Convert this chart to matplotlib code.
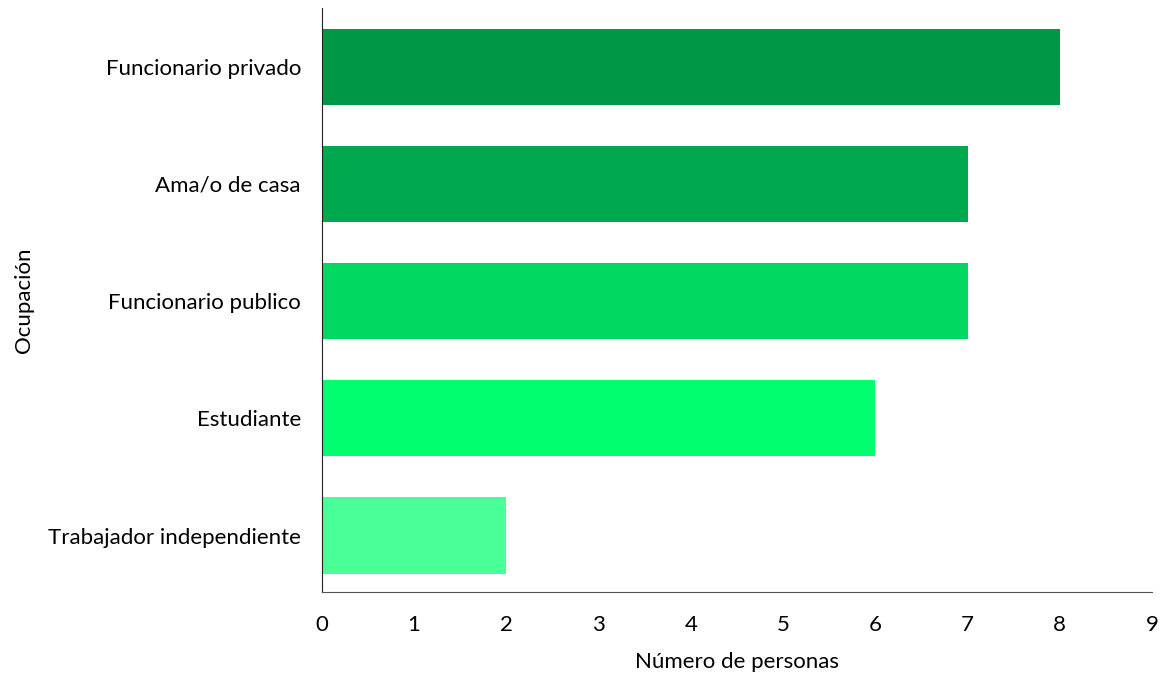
import matplotlib.pyplot as plt

ocupaciones = ["Trabajador independiente", "Estudiante", "Funcionario publico",
               "Ama/o de casa", "Funcionario privado"]
personas = [2, 6, 7, 7, 8]
colores = ["#48FF98", "#00FF6E", "#00D862", "#00A84E", "#009846"]
ticks_x = [0, 1, 2, 3, 4, 5, 6, 7, 8, 9]

plt.rcParams['font.family'] = ['Lato', 'DejaVu Sans']

fig = plt.figure(figsize=(11.66, 6.81), dpi=100)
ax = fig.add_axes([0.276, 0.131, 0.712, 0.857])
ax.barh(ocupaciones, personas, height=0.65, color=colores)

ax.set_xlim(0, 9)
ax.set_ylim(-0.48, 4.5)
ax.set_xticks(ticks_x)
ax.tick_params(axis='both', length=0, labelsize=16)
ax.tick_params(axis='x', pad=17)
ax.tick_params(axis='y', pad=15)
ax.spines['top'].set_visible(False)
ax.spines['right'].set_visible(False)
ax.spines['left'].set_color('#222222')
ax.spines['bottom'].set_color('#555555')
ax.set_xlabel("Número de personas", fontsize=16, labelpad=12)
ax.set_ylabel("Ocupación", fontsize=16, labelpad=10)

fig.savefig("out.png", dpi=100)
